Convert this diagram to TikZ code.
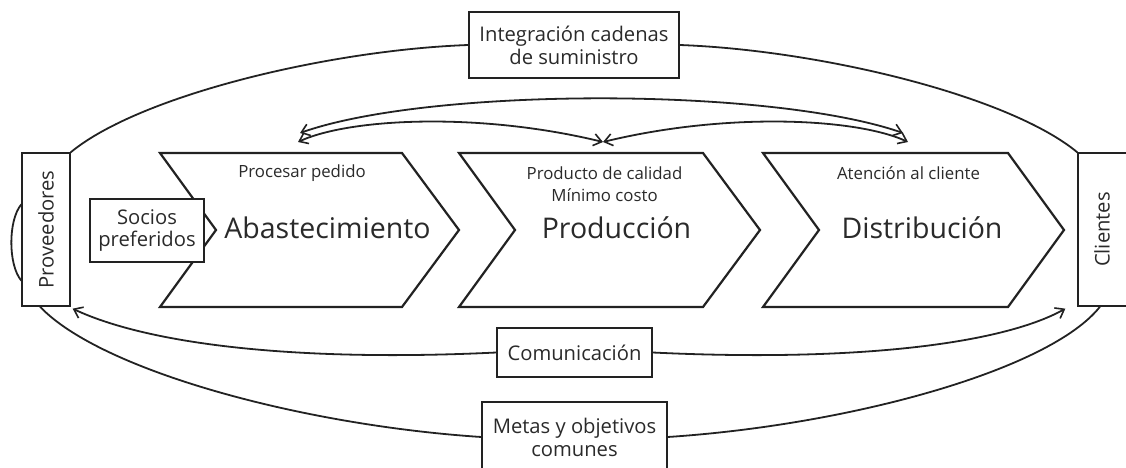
\documentclass[tikz,border=0pt]{standalone}
\usepackage{fontspec}
\setmainfont{Open Sans}
\usetikzlibrary{arrows.meta}
\definecolor{ink}{HTML}{222222}
\definecolor{txt}{HTML}{2A2A2A}
\tikzset{
  chev/.style={draw=ink, line width=2.2pt, line join=miter, fill=white},
  lbox/.style={draw=ink, line width=1.3pt, fill=white, inner sep=0pt, align=center, text=txt},
  conn/.style={draw=ink, line width=1.8pt},
  barb/.style={-{Straight Barb[length=8pt,width=12pt,line width=1.6pt]}},
  dbarb/.style={{Straight Barb[length=8pt,width=12pt,line width=1.6pt]}-{Straight Barb[length=8pt,width=12pt,line width=1.6pt]}},
  big/.style={inner sep=0pt, text=txt, font=\fontsize{28.5}{34}\selectfont},
  small/.style={inner sep=0pt, text=txt, font=\fontsize{16.8}{21}\selectfont},
  mid/.style={font=\fontsize{20.2}{25}\selectfont},
}
\begin{document}
\begin{tikzpicture}[x=1pt,y=-1pt]
\useasboundingbox (0,0) rectangle (1126,468);
% chevrons
\draw[chev] (160,153) -- (402,153) -- (459,230) -- (402,307) -- (160,307) -- (216,230) -- cycle;
\draw[chev] (459,153) -- (703,153) -- (760,230) -- (703,307) -- (459,307) -- (515,230) -- cycle;
\draw[chev] (763,153) -- (1008,153) -- (1064,230) -- (1008,307) -- (763,307) -- (819,230) -- cycle;
% chevron texts
\node[small] (t1) at (302,173) {Procesar pedido};
\node[big] (abas) at (327.5,228) {Abastecimiento};
\node[small] (t2) at (604.5,173) {Producto de calidad};
\node[small] (t3) at (604.5,195) {Mínimo costo};
\node[big] (prod) at (616.5,228) {Producción};
\node[small] (t4) at (908.5,173) {Atención al cliente};
\node[big] (dist) at (922,228) {Distribución};
% side boxes
\node[lbox, mid, minimum width=48pt, minimum height=153pt] (prov) at (46,229.5) {};
\node[rotate=90, text=txt, mid, inner sep=0pt] at (prov.center) {Proveedores};
\node[lbox, mid, minimum width=50pt, minimum height=153pt] (cli) at (1103,229.5) {};
\node[rotate=90, text=txt, mid, inner sep=0pt] at (1102,229.5) {Clientes};
\node[lbox, mid, minimum width=114pt, minimum height=63pt] (socios) at (147,230.5) {Socios\\[-3pt]preferidos};
% label boxes
\node[lbox, mid, minimum width=210pt, minimum height=66pt] (integ) at (574,45) {Integración cadenas\\[-2pt]de suministro};
\node[lbox, mid, minimum width=155pt, minimum height=49pt] (comu) at (574.5,352.5) {Comunicación};
\node[lbox, mid, minimum width=185pt, minimum height=70pt] (metas) at (574.5,437) {Metas y objetivos\\[-2pt]comunes};
% connectors
\draw[conn] (integ.west) .. controls (330,50) and (140,95) .. (prov.north east);
\draw[conn] (integ.east) .. controls (818,50) and (1008,95) .. (cli.north west);
\draw[conn, barb] (comu.west) .. controls (300,362) and (150,345) .. ([xshift=2pt,yshift=-2pt]prov.south east);
\draw[conn, barb] (comu.east) .. controls (850,362) and (1000,345) .. ([xshift=-12pt,yshift=-2pt]cli.south west);
\draw[conn] (metas.west) .. controls (300,425) and (100,370) .. ([xshift=-6pt]prov.south);
\draw[conn] (metas.east) .. controls (850,425) and (1050,370) .. ([xshift=-3pt]cli.south);
\draw[conn] ([yshift=-52pt]prov.north west) .. controls (8,220) and (8,265) .. ([yshift=26pt]prov.south west);
% top arrows
\coordinate (aL1) at (300,133);
\coordinate (aR1) at (903,133);
\coordinate (aL2) at (298,142);
\coordinate (aM) at (603,142);
\coordinate (aR2) at (908,142);
\draw[conn, dbarb] (aL1) .. controls (430,87) and (770,87) .. (aR1);
\draw[conn, dbarb] (aL2) .. controls (350,118) and (480,112) .. (aM);
\draw[conn, dbarb] (aM) .. controls (726,112) and (856,118) .. (aR2);
\end{tikzpicture}
\end{document}
